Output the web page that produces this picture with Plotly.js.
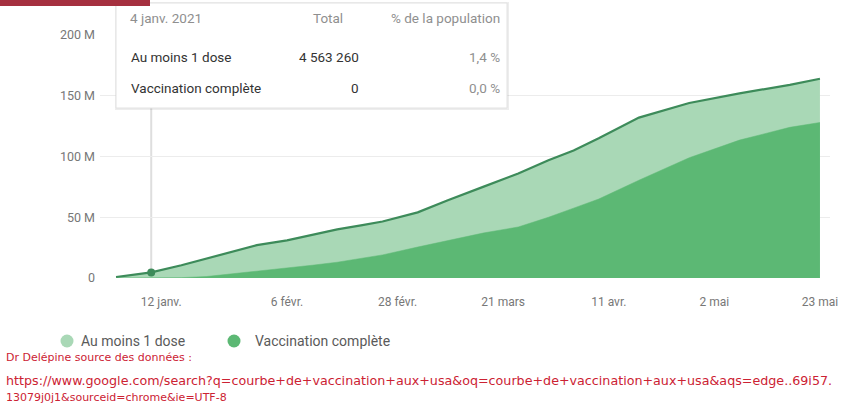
<!DOCTYPE html>
<html>
<head>
<meta charset="utf-8">
<script src="https://cdn.plot.ly/plotly-3.0.1.min.js"></script>
<style>
  html, body { margin: 0; padding: 0; background: #fff; }
  #chart { width: 843px; height: 406px; }
</style>
</head>
<body>
<div id="chart"></div>
<script>
// ---- Data ----
const dates = ['2021-01-03','2021-01-10','2021-01-16','2021-01-21','2021-01-26','2021-01-31',
  '2021-02-06','2021-02-11','2021-02-16','2021-02-21','2021-02-25','2021-03-04','2021-03-10',
  '2021-03-17','2021-03-24','2021-03-30','2021-04-04','2021-04-09','2021-04-17','2021-04-27',
  '2021-05-07','2021-05-17','2021-05-23'];
const atLeastOneDose = [0.8e6, 4.6e6, 10.5e6, 16e6, 21e6, 27e6,
  31e6, 35.5e6, 40e6, 43.5e6, 46.5e6, 54e6, 64e6,
  75e6, 86e6, 97e6, 105e6, 115e6, 132e6, 144e6,
  152e6, 159e6, 164e6];
const fullyVaccinated = [0, 0, 0.3e6, 1.2e6, 3.3e6, 5.5e6,
  8e6, 10.5e6, 13e6, 16.5e6, 19e6, 25.5e6, 31e6,
  37e6, 42e6, 50e6, 57.5e6, 65e6, 80.5e6, 99e6,
  113.5e6, 124e6, 128e6];
const seriesNames = ['Au moins 1 dose', 'Vaccination complète'];

const xTickDates = ['2021-01-12','2021-02-06','2021-02-28','2021-03-21','2021-04-11','2021-05-02','2021-05-23'];
const xTickLabels = ['12 janv.','6 févr.','28 févr.','21 mars','11 avr.','2 mai','23 mai'];
const yTickValues = [0, 50e6, 100e6, 150e6, 200e6];
const yTickLabels = ['0','50 M','100 M','150 M','200 M'];

const highlightIndex = 1;
const tooltipHeader = ['4 janv. 2021', 'Total', '% de la population'];
const tooltipRows = [
  ['Au moins 1 dose', '4 563 260', '1,4 %'],
  ['Vaccination complète', '0', '0,0 %']
];
const sourceLines = [
  'Dr Delépine source des données :',
  'https://www.google.com/search?q=courbe+de+vaccination+aux+usa&oq=courbe+de+vaccination+aux+usa&aqs=edge..69i57.',
  '13079j0j1&sourceid=chrome&ie=UTF-8'
];

// ---- Styling ----
const W = 843, H = 406;
const M = {l: 100, r: 13, t: 35, b: 128};
const PW = W - M.l - M.r, PH = H - M.t - M.b;
const px = x => (x - M.l) / PW;          // pixel x -> paper x
const py = y => (H - M.b - y) / PH;      // pixel y -> paper y

const lightFill = '#a9d8b6';
const darkFill = '#5cb874';
const lineColor = '#3d8b5a';
const FONT = 'Roboto, Arial, sans-serif';
const RED_FONT = '"DejaVu Sans", Verdana, sans-serif';

const traces = [
  {
    x: dates, y: atLeastOneDose, name: seriesNames[0], type: 'scatter', mode: 'lines',
    fill: 'tozeroy', fillcolor: lightFill, line: {color: lineColor, width: 2.2},
    showlegend: false, hoverinfo: 'skip'
  },
  {
    x: dates, y: fullyVaccinated, name: seriesNames[1], type: 'scatter', mode: 'lines',
    fill: 'tozeroy', fillcolor: darkFill, line: {color: darkFill, width: 0.5},
    showlegend: false, hoverinfo: 'skip'
  },
  {
    x: [dates[highlightIndex]], y: [atLeastOneDose[highlightIndex]], type: 'scatter', mode: 'markers',
    marker: {color: lineColor, size: 8}, showlegend: false, hoverinfo: 'skip'
  }
];

const shapes = [
  // hover guide line
  {type: 'line', xref: 'x', yref: 'paper', x0: dates[highlightIndex], x1: dates[highlightIndex],
   y0: 0, y1: 1.1, line: {color: '#dedede', width: 2}, layer: 'between'},
  // tooltip shadow + box
  {type: 'rect', xref: 'paper', yref: 'paper', x0: px(115), x1: px(509), y0: py(110), y1: py(2),
   fillcolor: 'rgba(0,0,0,0.07)', line: {width: 0}, layer: 'above'},
  {type: 'rect', xref: 'paper', yref: 'paper', x0: px(116), x1: px(507), y0: py(108), y1: py(3),
   fillcolor: '#ffffff', line: {color: '#e2e2e2', width: 1}, layer: 'above'},
  // red bar at top left
  {type: 'rect', xref: 'paper', yref: 'paper', x0: px(0), x1: px(150), y0: py(6), y1: py(0),
   fillcolor: '#a5303f', line: {width: 0}, layer: 'above'},
  // legend circles
  {type: 'circle', xref: 'paper', yref: 'paper', xsizemode: 'pixel', ysizemode: 'pixel',
   xanchor: px(67), yanchor: py(341), x0: -6.5, x1: 6.5, y0: -6.5, y1: 6.5,
   fillcolor: lightFill, line: {width: 0}},
  {type: 'circle', xref: 'paper', yref: 'paper', xsizemode: 'pixel', ysizemode: 'pixel',
   xanchor: px(234), yanchor: py(341), x0: -6.5, x1: 6.5, y0: -6.5, y1: 6.5,
   fillcolor: darkFill, line: {width: 0}}
];

const ann = (text, x, y, anchor, size, color, family) => ({
  text, x: px(x), y: py(y), xref: 'paper', yref: 'paper', xanchor: anchor, yanchor: 'middle',
  showarrow: false, font: {family: family || FONT, size, color}
});

const annotations = [
  ann(tooltipHeader[0], 128, 18, 'left', 13.5, '#8f8f8f'),
  ann(tooltipHeader[1], 345, 18, 'right', 13.5, '#8f8f8f'),
  ann(tooltipHeader[2], 502, 18, 'right', 13.5, '#8f8f8f'),
  ann(tooltipRows[0][0], 129, 57, 'left', 13.5, '#333333'),
  ann(tooltipRows[0][1], 361, 57, 'right', 13.5, '#333333'),
  ann(tooltipRows[0][2], 502, 57, 'right', 13.5, '#8f8f8f'),
  ann(tooltipRows[1][0], 129, 88, 'left', 13.5, '#333333'),
  ann(tooltipRows[1][1], 361, 88, 'right', 13.5, '#333333'),
  ann(tooltipRows[1][2], 502, 88, 'right', 13.5, '#8f8f8f'),
  ann(seriesNames[0], 79, 341, 'left', 14, '#5a5a5a'),
  ann(seriesNames[1], 253, 341, 'left', 14, '#5a5a5a'),
  ann(sourceLines[0], 4, 357, 'left', 11, '#cc2233', RED_FONT),
  ann(sourceLines[1], 4, 380, 'left', 12.7, '#cc2233', RED_FONT),
  ann(sourceLines[2], 4, 397, 'left', 11, '#cc2233', RED_FONT)
];

const layout = {
  width: W, height: H,
  margin: {l: M.l, r: M.r, t: M.t, b: M.b, pad: 0},
  paper_bgcolor: '#ffffff', plot_bgcolor: '#ffffff',
  showlegend: false,
  font: {family: FONT, color: '#777777', size: 12},
  xaxis: {
    type: 'date', range: ['2020-12-30 19:30', '2021-05-25'],
    tickvals: xTickDates, ticktext: xTickLabels,
    showgrid: false, zeroline: false, showline: false, ticks: '',
    ticklabelstandoff: 15,
    tickfont: {family: FONT, size: 12, color: '#777777'}
  },
  yaxis: {
    range: [0, 200e6], tickvals: yTickValues, ticktext: yTickLabels,
    showgrid: true, gridcolor: '#ececec', gridwidth: 1,
    zeroline: false, showline: false, ticks: '',
    ticklabelstandoff: 4,
    tickfont: {family: FONT, size: 12.5, color: '#777777'}
  },
  shapes, annotations
};

Plotly.newPlot('chart', traces, layout, {displayModeBar: false, staticPlot: true});
</script>
</body>
</html>
